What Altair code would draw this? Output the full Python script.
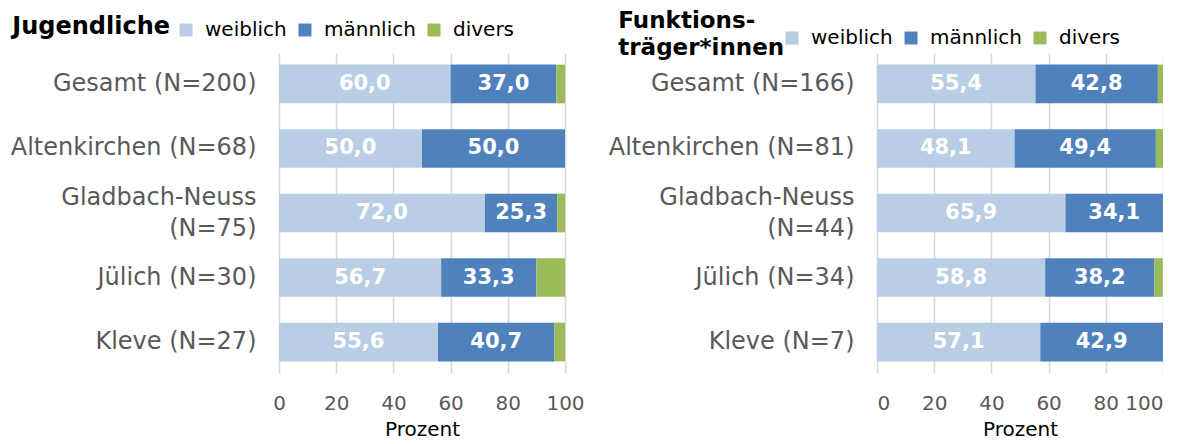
import altair as alt
import pandas as pd

groups = ["weiblich", "männlich", "divers"]
colors = ["#B9CDE5", "#4F81BD", "#9BBB59"]
x_ticks = [0, 20, 40, 60, 80, 100]

cats_j = ["Gesamt (N=200)", "Altenkirchen (N=68)", "Gladbach-Neuss|(N=75)", "Jülich (N=30)", "Kleve (N=27)"]
weiblich_j = [60.0, 50.0, 72.0, 56.7, 55.6]
maennlich_j = [37.0, 50.0, 25.3, 33.3, 40.7]
divers_j = [3.0, 0.0, 2.7, 10.0, 3.7]

cats_f = ["Gesamt (N=166)", "Altenkirchen (N=81)", "Gladbach-Neuss|(N=44)", "Jülich (N=34)", "Kleve (N=7)"]
weiblich_f = [55.4, 48.1, 65.9, 58.8, 57.1]
maennlich_f = [42.8, 49.4, 34.1, 38.2, 42.9]
divers_f = [1.8, 2.5, 0.0, 2.9, 0.0]

FONT = "DejaVu Sans"


def make_df(cats, w, m, d):
    rows = []
    for i, c in enumerate(cats):
        for j, (g, v) in enumerate(zip(groups, [w[i], m[i], d[i]])):
            lab = f"{v:.1f}".replace(".", ",") if (g != "divers" and v > 0) else ""
            rows.append({"cat": c, "group": g, "order": j, "value": v, "label": lab})
    return pd.DataFrame(rows)


def panel(df, cats, title, legend_x, legend_y, title_offset, title_dx, title_size, flush):
    base = alt.Chart(df).transform_stack(
        stack="value", as_=["x0", "x1"], groupby=["cat"],
        sort=[alt.SortField("order", order="ascending")]
    ).transform_calculate(mid="(datum.x0 + datum.x1) / 2")

    y_enc = alt.Y(
        "cat:N", sort=cats, title=None,
        scale=alt.Scale(paddingInner=0.4, paddingOuter=0.18),
        axis=alt.Axis(
            labelExpr="split(datum.label, '|')", labelFontSize=24, labelFont=FONT,
            labelColor="#595959", labelPadding=23, labelLimit=500, labelLineHeight=31,
            labelOffset={"condition": {"test": "indexof(datum.value, '|') >= 0", "value": -15}, "value": 0},
            ticks=False, domain=False, grid=False,
        ),
    )
    x_enc = alt.X(
        "x0:Q", scale=alt.Scale(domain=[0, 100], nice=False),
        axis=alt.Axis(
            values=x_ticks, grid=True, gridColor="#D9D9D9", gridWidth=1.6,
            domain=False, ticks=False, labelFontSize=20, labelFont=FONT,
            labelColor="#595959", labelPadding=20, labelFlush=flush, title="Prozent",
            titleFontSize=20, titleFont=FONT, titleFontWeight="normal",
            titleColor="#000000", titlePadding=6,
        ),
    )
    bars = base.mark_bar().encode(
        x=x_enc, x2="x1:Q", y=y_enc,
        color=alt.Color(
            "group:N", scale=alt.Scale(domain=groups, range=colors),
            legend=alt.Legend(
                title=None, orient="none", direction="horizontal",
                legendX=legend_x, legendY=legend_y, labelFontSize=20, labelFont=FONT,
                labelColor="#000000", symbolType="square", symbolSize=169,
                symbolStrokeWidth=0, labelOffset=9, columnPadding=8, padding=0,
            ),
        ),
        order=alt.Order("order:Q"),
    )
    text = base.transform_filter("datum.label != ''").mark_text(
        font=FONT, fontSize=21, fontWeight="bold", color="white",
        align="center", baseline="middle",
    ).encode(x="mid:Q", y=alt.Y("cat:N", sort=cats), text="label:N")

    return alt.layer(bars, text).properties(
        width=286, height=320,
        title=alt.Title(
            text=title, anchor="start", font=FONT, fontSize=title_size, fontWeight="bold",
            color="#000000", offset=title_offset, dx=title_dx, lineHeight=27,
        ),
    )


left = panel(make_df(cats_j, weiblich_j, maennlich_j, divers_j), cats_j,
             "Jugendliche", -103, -33, -19, 2, 24, False)
right = panel(make_df(cats_f, weiblich_f, maennlich_f, divers_f), cats_f,
              ["Funktions-", "träger*innen"], -95, -25, -32, 10, 23, True)

chart = alt.hconcat(left, right, spacing=23).resolve_scale(
    color="independent"
).resolve_legend(color="independent").configure_view(stroke=None).properties(
    padding={"left": 2, "top": 2, "right": 0, "bottom": 0}
)

chart.save("out.html", embed_options={"renderer": "svg", "actions": False})
